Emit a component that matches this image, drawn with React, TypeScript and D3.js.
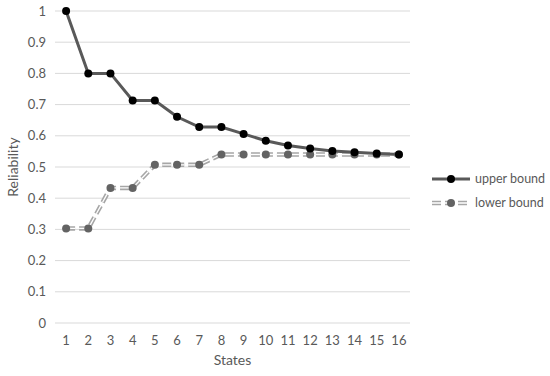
import React, { useEffect, useRef } from "react";
import * as d3 from "d3";

const states = ["1", "2", "3", "4", "5", "6", "7", "8", "9", "10", "11", "12", "13", "14", "15", "16"];
const upperBound = [1, 0.8, 0.8, 0.713, 0.713, 0.661, 0.628, 0.628, 0.606, 0.584, 0.569, 0.559, 0.551, 0.547, 0.543, 0.54];
const lowerBound = [0.303, 0.303, 0.433, 0.433, 0.507, 0.507, 0.507, 0.54, 0.54, 0.54, 0.54, 0.54, 0.54, 0.54, 0.54, 0.54];
const yTicks = [0, 0.1, 0.2, 0.3, 0.4, 0.5, 0.6, 0.7, 0.8, 0.9, 1];

const App: React.FC = () => {
  const svgRef = useRef<SVGSVGElement>(null);
  const width = 550;
  const height = 376;
  const margin = { top: 11, right: 140, bottom: 53, left: 55 };
  const font = "Lato, 'Open Sans', sans-serif";
  const textColor = "#595959";

  useEffect(() => {
    const svg = d3.select(svgRef.current);
    svg.selectAll("*").remove();

    const x = d3.scaleBand().domain(states).range([margin.left, width - margin.right]);
    const y = d3.scaleLinear().domain([0, 1]).range([height - margin.bottom, margin.top]);
    const cx = (i: number) => (x(states[i]) as number) + x.bandwidth() / 2;

    // grid
    svg.append("g")
      .selectAll("line")
      .data(yTicks)
      .enter()
      .append("line")
      .attr("x1", margin.left)
      .attr("x2", width - margin.right)
      .attr("y1", (d) => y(d))
      .attr("y2", (d) => y(d))
      .attr("stroke", "#d9d9d9")
      .attr("stroke-width", 1);

    // y labels
    svg.append("g")
      .selectAll("text")
      .data(yTicks)
      .enter()
      .append("text")
      .attr("x", 46)
      .attr("y", (d) => y(d))
      .attr("dy", "0.35em")
      .attr("text-anchor", "end")
      .attr("font-family", font)
      .attr("font-size", 13)
      .attr("fill", textColor)
      .text((d) => d3.format("~g")(d));

    // x labels
    svg.append("g")
      .selectAll("text")
      .data(states)
      .enter()
      .append("text")
      .attr("x", (d, i) => cx(i))
      .attr("y", 345)
      .attr("text-anchor", "middle")
      .attr("font-family", font)
      .attr("font-size", 13)
      .attr("fill", textColor)
      .text((d) => d);

    svg.append("text")
      .attr("x", (margin.left + width - margin.right) / 2)
      .attr("y", 365)
      .attr("text-anchor", "middle")
      .attr("font-family", font)
      .attr("font-size", 14)
      .attr("fill", textColor)
      .text("States");

    svg.append("text")
      .attr("transform", `translate(18,${(margin.top + height - margin.bottom) / 2}) rotate(-90)`)
      .attr("text-anchor", "middle")
      .attr("font-family", font)
      .attr("font-size", 14)
      .attr("fill", textColor)
      .text("Reliability");

    const line = d3.line<number>().x((d, i) => cx(i)).y((d) => y(d));

    // lower bound: double dashed line
    svg.append("path")
      .attr("d", line(lowerBound))
      .attr("fill", "none")
      .attr("stroke", "#a6a6a6")
      .attr("stroke-width", 4.5)
      .attr("stroke-dasharray", "9,4");
    svg.append("path")
      .attr("d", line(lowerBound))
      .attr("fill", "none")
      .attr("stroke", "#ffffff")
      .attr("stroke-width", 1.3)
      .attr("stroke-dasharray", "9,4");

    svg.append("path")
      .attr("d", line(upperBound))
      .attr("fill", "none")
      .attr("stroke", "#595959")
      .attr("stroke-width", 3);

    svg.append("g")
      .selectAll("circle")
      .data(lowerBound)
      .enter()
      .append("circle")
      .attr("cx", (d, i) => cx(i))
      .attr("cy", (d) => y(d))
      .attr("r", 4)
      .attr("fill", "#636363");

    svg.append("g")
      .selectAll("circle")
      .data(upperBound)
      .enter()
      .append("circle")
      .attr("cx", (d, i) => cx(i))
      .attr("cy", (d) => y(d))
      .attr("r", 4)
      .attr("fill", "#000000");

    // legend
    const lg = svg.append("g");
    lg.append("line")
      .attr("x1", 432).attr("x2", 470).attr("y1", 179).attr("y2", 179)
      .attr("stroke", "#595959").attr("stroke-width", 3);
    lg.append("circle").attr("cx", 451).attr("cy", 179).attr("r", 4).attr("fill", "#000");
    lg.append("text")
      .attr("x", 475).attr("y", 179).attr("dy", "0.35em")
      .attr("font-family", font).attr("font-size", 12.5).attr("fill", textColor)
      .text("upper bound");

    lg.append("line")
      .attr("x1", 432).attr("x2", 470).attr("y1", 203).attr("y2", 203)
      .attr("stroke", "#a6a6a6").attr("stroke-width", 4.5).attr("stroke-dasharray", "9,4");
    lg.append("line")
      .attr("x1", 432).attr("x2", 470).attr("y1", 203).attr("y2", 203)
      .attr("stroke", "#fff").attr("stroke-width", 1.3).attr("stroke-dasharray", "9,4");
    lg.append("circle").attr("cx", 451).attr("cy", 203).attr("r", 4).attr("fill", "#636363");
    lg.append("text")
      .attr("x", 475).attr("y", 203).attr("dy", "0.35em")
      .attr("font-family", font).attr("font-size", 12.5).attr("fill", textColor)
      .text("lower bound");
  }, []);

  return (
    <svg
      ref={svgRef}
      width={width}
      height={height}
      style={{ position: "absolute", left: 0, top: 0, background: "#fff" }}
    ></svg>
  );
};

export default App;
